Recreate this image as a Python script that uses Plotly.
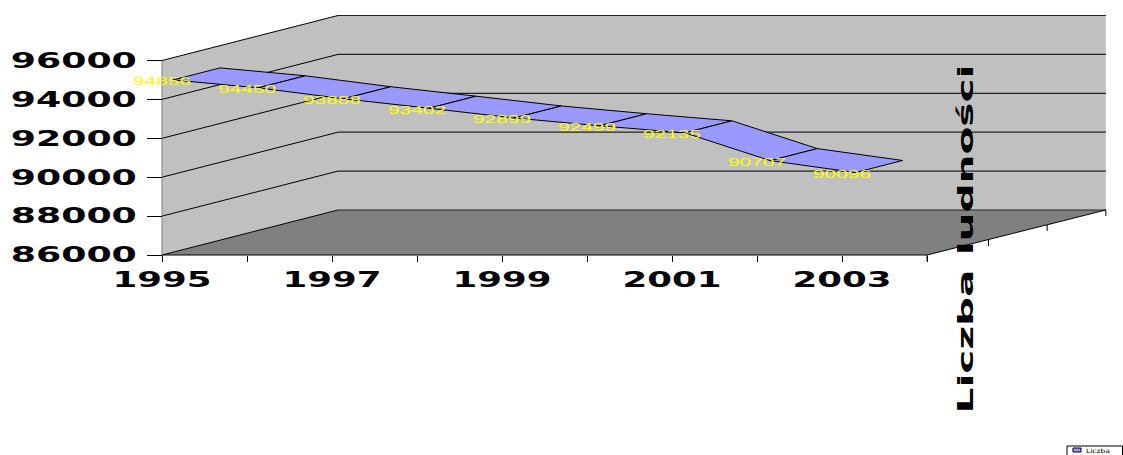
import plotly.graph_objects as go

# --- data ---
years = [1995, 1996, 1997, 1998, 1999, 2000, 2001, 2002, 2003]
population = [94856, 94450, 93888, 93402, 92899, 92499, 92135, 90707, 90096]
series_name = "Liczba ludności"
axis_years = [1995, 1996, 1997, 1998, 1999, 2000, 2001, 2002, 2003, 2004]
axis_year_labels = ["1995", "", "1997", "", "1999", "", "2001", "", "2003", ""]
value_ticks = [86000, 88000, 90000, 92000, 94000, 96000]

# --- oblique 3D projection, in axis units ---
W, H = 1123, 455
L, R, T, B = 162, 927, 60.5, 255
X0, X1 = 1995, 2004
Y0, Y1 = 86000, 96000
px_x = (R - L) / (X1 - X0)
px_y = (B - T) / (Y1 - Y0)
DEPTH_X = 176 / px_x      # years shifted at full depth
DEPTH_Y = 45 / px_y       # value shifted at full depth
DEPTH_WIDEN = 1.0037      # anything behind the front plane is drawn slightly wider
RIBBON_FRONT, RIBBON_BACK = 0.0625, 0.33


def proj(year, value, depth):
    widen = DEPTH_WIDEN if depth > 0 else 1.0
    return X0 + (year - X0) * widen + depth * DEPTH_X, value + depth * DEPTH_Y


def poly(corners):
    pts = [proj(*c) for c in corners]
    pts.append(pts[0])
    return [p[0] for p in pts], [p[1] for p in pts]


fig = go.Figure()


def add_poly(corners, fill):
    xs, ys = poly(corners)
    fig.add_trace(go.Scatter(x=xs, y=ys, mode="lines", fill="toself", fillcolor=fill,
                             line=dict(width=0), hoverinfo="skip", showlegend=False))


def add_line(corners, color="#000000", width=1):
    pts = [proj(*c) for c in corners]
    fig.add_trace(go.Scatter(x=[p[0] for p in pts], y=[p[1] for p in pts], mode="lines",
                             line=dict(color=color, width=width, simplify=False),
                             hoverinfo="skip", showlegend=False))


# walls and floor
add_poly([(X0, Y0, 0), (X0, Y1, 0), (X0, Y1, 1), (X0, Y0, 1)], "#C0C0C0")
add_poly([(X0, Y0, 1), (X0, Y1, 1), (X1, Y1, 1), (X1, Y0, 1)], "#C0C0C0")
add_poly([(X0, Y0, 0), (X1, Y0, 0), (X1, Y0, 1), (X0, Y0, 1)], "#808080")

# gridlines
for v in value_ticks:
    add_line([(X0, v, 0), (X0, v, 1)], "#000000", 1)
    add_line([(X0, v, 1), (X1, v, 1)], "#222222", 1.2)

# front wall edge and axis line
add_line([(X0, Y0, 0), (X0, Y1, 0)], "#808080", 1)
add_line([(X0, Y0, 0), (X1, Y0, 0)], "#000000", 1)

# floor edge and depth ticks
add_line([(X1, Y0, 0), (X1, Y0, 1)], "#000000", 1)
TICK6 = 6 / px_y
for d in (0, 1 / 3, 2 / 3, 1):
    add_line([(X1, Y0, d), (X1, Y0 - TICK6, d)], "#000000", 1)

# ribbon
for i in range(len(years) - 1):
    xs, ys = poly([(years[i], population[i], RIBBON_FRONT),
                   (years[i + 1], population[i + 1], RIBBON_FRONT),
                   (years[i + 1], population[i + 1], RIBBON_BACK),
                   (years[i], population[i], RIBBON_BACK)])
    fig.add_trace(go.Scatter(x=xs, y=ys, mode="lines", fill="toself", fillcolor="#9999FF",
                             line=dict(color="#000000", width=1, simplify=False),
                             showlegend=False, hoverinfo="skip"))

# data labels
fig.add_trace(go.Scatter(x=years, y=population, mode="text",
                         text=[str(v) for v in population], textposition="middle center",
                         textfont=dict(family="Liberation Sans", size=10, color="#FFFF00"),
                         showlegend=False, name=series_name))


# page-pixel helpers for the items that sit outside the axes
def paper_x(px):
    return px / W


def paper_y(py):
    return 1 - py / H


# depth axis title
fig.add_annotation(text=f"<b>{series_name}</b>", xref="paper", yref="paper",
                   x=paper_x(964.5), y=paper_y(239), showarrow=False, textangle=-90,
                   font=dict(family="DejaVu Sans", size=22, color="#000000"),
                   xanchor="center", yanchor="middle")

# legend box, running off the page corner as in the picture
fig.add_shape(type="rect", xref="paper", yref="paper", x0=paper_x(1067), x1=paper_x(1122.5),
              y0=paper_y(446), y1=paper_y(470), line=dict(color="#000000", width=1),
              fillcolor="#FFFFFF")
fig.add_shape(type="rect", xref="paper", yref="paper", x0=paper_x(1073), x1=paper_x(1081),
              y0=paper_y(448), y1=paper_y(452), line=dict(color="#000000", width=1),
              fillcolor="#9999FF")
fig.add_annotation(text="Liczba<br>ludności", xref="paper", yref="paper",
                   x=paper_x(1085), y=paper_y(446), showarrow=False, align="left",
                   xanchor="left", yanchor="top",
                   font=dict(family="DejaVu Sans", size=6, color="#000000"),
                   borderpad=0)

fig.update_layout(
    width=W, height=H,
    margin=dict(l=0, r=0, t=0, b=0, autoexpand=False),
    paper_bgcolor="#FFFFFF", plot_bgcolor="#FFFFFF",
    showlegend=False,
    xaxis=dict(range=[X0 - L / px_x, X0 + (W - L) / px_x],
               anchor="free", position=paper_y(B),
               tickmode="array", tickvals=axis_years, ticktext=axis_year_labels,
               ticks="outside", ticklen=6, tickcolor="#000000", tickwidth=1,
               showline=False, showgrid=False, zeroline=False,
               ticklabelstandoff=0,
               tickfont=dict(family="DejaVu Sans", size=21, color="#000000", weight="bold")),
    yaxis=dict(range=[Y0 - (H - B) / px_y, Y0 + B / px_y],
               anchor="free", position=paper_x(L),
               tickmode="array", tickvals=value_ticks,
               ticktext=[str(v) for v in value_ticks],
               ticks="outside", ticklen=15, tickcolor="#000000", tickwidth=1,
               showline=False, showgrid=False, zeroline=False,
               ticklabelstandoff=6,
               tickfont=dict(family="DejaVu Sans", size=21, color="#000000", weight="bold")),
)

# the reference's text is stretched horizontally along its baseline
stretch_js = """
document.body.style.margin = '0';
var gd = document.getElementById('{plot_id}');
function fit(el, len) {
  el.setAttribute('textLength', len);
  el.setAttribute('lengthAdjust', 'spacingAndGlyphs');
}
function fitAll(sel, len) {
  gd.querySelectorAll(sel).forEach(function (t) {
    if (t.textContent) fit(t, len);
  });
}
fitAll('.ytick text', 126);
fitAll('.xtick text', 99);
fitAll('.textpoint text', 58);
gd.querySelectorAll('.annotation-text').forEach(function (t) {
  if (t.textContent.indexOf('Liczba ludno') === 0) fit(t, 349);
  else t.querySelectorAll('tspan.line').forEach(function (s, i) {
    fit(s, i === 0 ? 24 : 30);
  });
});
"""
fig.write_html("out.html", post_script=stretch_js,
               config=dict(displayModeBar=False))
